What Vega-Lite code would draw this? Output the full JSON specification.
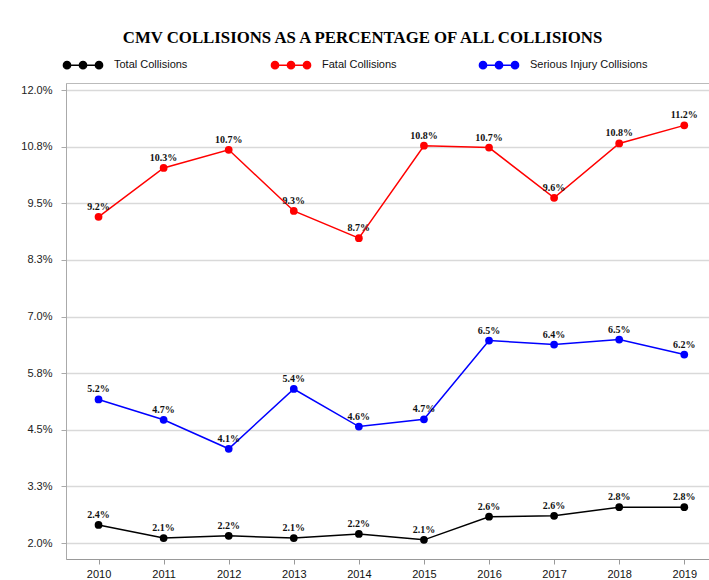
{
  "$schema": "https://vega.github.io/schema/vega-lite/v6.json",
  "width": 643,
  "height": 476,
  "autosize": {"type": "none"},
  "padding": {"left": 66, "top": 83, "right": 0, "bottom": 21},
  "background": "white",
  "title": {
    "text": "CMV COLLISIONS AS A PERCENTAGE OF ALL COLLISIONS",
    "font": "Liberation Serif",
    "fontSize": 16.8,
    "fontWeight": "bold",
    "color": "black",
    "anchor": "middle",
    "frame": "group",
    "dx": -25,
    "dy": 13,
    "offset": 10
  },
  "data": {
    "values": [
      {"year": 2010, "series": "Total Collisions", "value": 0.024},
      {"year": 2011, "series": "Total Collisions", "value": 0.0211},
      {"year": 2012, "series": "Total Collisions", "value": 0.0216},
      {"year": 2013, "series": "Total Collisions", "value": 0.0211},
      {"year": 2014, "series": "Total Collisions", "value": 0.022},
      {"year": 2015, "series": "Total Collisions", "value": 0.0207},
      {"year": 2016, "series": "Total Collisions", "value": 0.0258},
      {"year": 2017, "series": "Total Collisions", "value": 0.026},
      {"year": 2018, "series": "Total Collisions", "value": 0.0279},
      {"year": 2019, "series": "Total Collisions", "value": 0.0279},
      {"year": 2010, "series": "Fatal Collisions", "value": 0.092},
      {"year": 2011, "series": "Fatal Collisions", "value": 0.1028},
      {"year": 2012, "series": "Fatal Collisions", "value": 0.1068},
      {"year": 2013, "series": "Fatal Collisions", "value": 0.0933},
      {"year": 2014, "series": "Fatal Collisions", "value": 0.0873},
      {"year": 2015, "series": "Fatal Collisions", "value": 0.1077},
      {"year": 2016, "series": "Fatal Collisions", "value": 0.1073},
      {"year": 2017, "series": "Fatal Collisions", "value": 0.0962},
      {"year": 2018, "series": "Fatal Collisions", "value": 0.1082},
      {"year": 2019, "series": "Fatal Collisions", "value": 0.1122},
      {"year": 2010, "series": "Serious Injury Collisions", "value": 0.0517},
      {"year": 2011, "series": "Serious Injury Collisions", "value": 0.0472},
      {"year": 2012, "series": "Serious Injury Collisions", "value": 0.0408},
      {"year": 2013, "series": "Serious Injury Collisions", "value": 0.054},
      {"year": 2014, "series": "Serious Injury Collisions", "value": 0.0457},
      {"year": 2015, "series": "Serious Injury Collisions", "value": 0.0473},
      {"year": 2016, "series": "Serious Injury Collisions", "value": 0.0647},
      {"year": 2017, "series": "Serious Injury Collisions", "value": 0.0638},
      {"year": 2018, "series": "Serious Injury Collisions", "value": 0.0649},
      {"year": 2019, "series": "Serious Injury Collisions", "value": 0.0616}
    ]
  },
  "encoding": {
    "x": {
      "field": "year",
      "type": "quantitative",
      "scale": {"domain": [2009.5, 2019.38], "nice": false, "zero": false},
      "axis": {
        "title": null,
        "values": [2010, 2011, 2012, 2013, 2014, 2015, 2016, 2017, 2018, 2019],
        "format": "d",
        "grid": false,
        "labelFlush": false,
        "labelOverlap": false,
        "labelFont": "Liberation Sans",
        "labelFontSize": 11,
        "labelColor": "#111",
        "labelPadding": 4,
        "tickColor": "#999",
        "tickSize": 5,
        "domainColor": "#999"
      }
    },
    "y": {
      "field": "value",
      "type": "quantitative",
      "scale": {"domain": [0.01647, 0.12155], "nice": false, "zero": false},
      "axis": {
        "title": null,
        "values": [0.02, 0.0325, 0.045, 0.0575, 0.07, 0.0825, 0.095, 0.1075, 0.12],
        "labelExpr": "format(datum.value * 100 + 0.000001, '.1f') + '%'",
        "grid": true,
        "gridColor": "#d9d9d9",
        "gridWidth": 1.5,
        "labelFont": "Liberation Sans",
        "labelFontSize": 11,
        "labelColor": "#222",
        "labelPadding": 9,
        "tickColor": "#aaa",
        "tickSize": 5,
        "domainColor": "#aaa"
      }
    },
    "color": {
      "field": "series",
      "type": "nominal",
      "scale": {
        "domain": ["Total Collisions", "Fatal Collisions", "Serious Injury Collisions"],
        "range": ["#000000", "#ff0000", "#0000ff"]
      },
      "legend": {
        "title": null,
        "orient": "none",
        "legendX": -4,
        "legendY": -39,
        "direction": "horizontal",
        "columns": 3,
        "gridAlign": "all",
        "columnPadding": 36,
        "symbolType": "M-1,0L1,0M-0.98,0A0.18,0.18,0,1,0,-0.62,0A0.18,0.18,0,1,0,-0.98,0M-0.18,0A0.18,0.18,0,1,0,0.18,0A0.18,0.18,0,1,0,-0.18,0M0.62,0A0.18,0.18,0,1,0,0.98,0A0.18,0.18,0,1,0,0.62,0",
        "symbolSize": 1600,
        "symbolStrokeWidth": 1.5,
        "symbolOpacity": 1,
        "labelFont": "Liberation Sans",
        "labelFontSize": 11,
        "labelColor": "#111",
        "labelOffset": 10,
        "labelLimit": 300,
        "encode": {
          "symbols": {
            "update": {
              "fill": {"scale": "color", "field": "value"},
              "stroke": {"scale": "color", "field": "value"}
            }
          }
        }
      }
    }
  },
  "layer": [
    {"mark": {"type": "line", "strokeWidth": 1.5}},
    {"mark": {"type": "point", "filled": true, "size": 60, "opacity": 1}},
    {
      "mark": {
        "type": "text",
        "dy": -10,
        "font": "Liberation Serif",
        "fontWeight": "bold",
        "fontSize": 10
      },
      "encoding": {
        "text": {"field": "value", "type": "quantitative", "format": ".1%"},
        "color": {"value": "#111"}
      }
    }
  ],
  "config": {
    "view": {"stroke": "#bbb", "strokeWidth": 1}
  }
}
